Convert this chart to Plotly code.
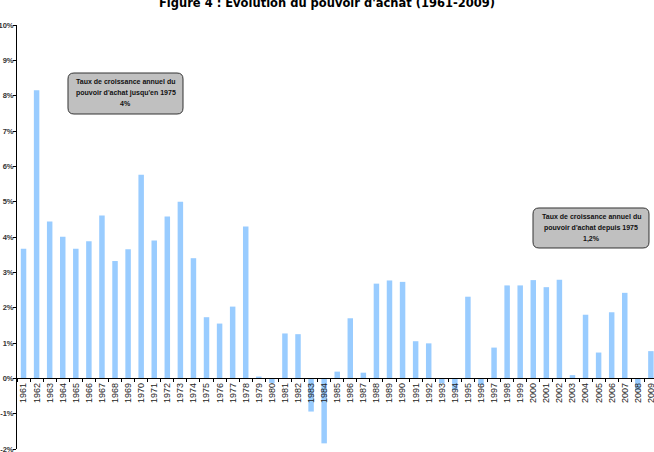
import plotly.graph_objects as go

years = [str(y) for y in range(1961, 2010)]
growth = [3.67, 8.15, 4.44, 4.01, 3.67, 3.88, 4.61, 3.32, 3.65, 5.76,
          3.90, 4.58, 5.00, 3.40, 1.73, 1.55, 2.03, 4.30, 0.05, -0.13,
          1.27, 1.25, -0.94, -1.84, 0.19, 1.70, 0.16, 2.68, 2.77, 2.73,
          1.05, 0.99, -0.14, -0.34, 2.31, -0.19, 0.87, 2.63, 2.63, 2.78,
          2.58, 2.79, 0.09, 1.80, 0.73, 1.87, 2.42, -0.34, 0.77]
y_ticks = list(range(-2, 11))
y_ticktext = [f"{v}%" for v in y_ticks]
title_text = "Figure 4 : Evolution du pouvoir d'achat (1961-2009)"
box_lines = [
    ["Taux de croissance annuel du", "pouvoir d'achat jusqu'en 1975", "4%"],
    ["Taux de croissance annuel du", "pouvoir d'achat depuis 1975", "1,2%"],
]

W, H = 654, 452
ML, MR, MT, MB = 17, 0, 25, 3
PW, PH = W - ML - MR, H - MT - MB
CAT_PX = 13.07

fig = go.Figure(go.Bar(x=years, y=growth, marker_color="#99ccff",
                       marker_line_width=0))

def px2paper(x, y):
    return (x - ML) / PW, (H - MB - y) / PH

def rounded_path(x0, y0, x1, y1, r):
    def P(x, y):
        a, b = px2paper(x, y)
        return f"{a:.5f},{b:.5f}"
    return (f"M {P(x0 + r, y0)} L {P(x1 - r, y0)} Q {P(x1, y0)} {P(x1, y0 + r)} "
            f"L {P(x1, y1 - r)} Q {P(x1, y1)} {P(x1 - r, y1)} "
            f"L {P(x0 + r, y1)} Q {P(x0, y1)} {P(x0, y1 - r)} "
            f"L {P(x0, y0 + r)} Q {P(x0, y0)} {P(x0 + r, y0)} Z")

boxes = [(68, 73, 183, 114), (533, 208, 649, 248)]
line_offsets = [8.2, 19.5, 30.8]
for (x0, y0, x1, y1), lines in zip(boxes, box_lines):
    fig.add_shape(type="path", path=rounded_path(x0, y0, x1, y1, 6),
                  xref="paper", yref="paper", fillcolor="#c0c0c0",
                  line=dict(color="#333333", width=1), layer="above")
    for off, txt in zip(line_offsets, lines):
        cx, cy = px2paper((x0 + x1) / 2, y0 + off)
        fig.add_annotation(x=cx, y=cy, xref="paper", yref="paper", text=txt,
                           showarrow=False, xanchor="center", yanchor="middle",
                           font=dict(family="Liberation Sans, Arial", size=7,
                                     color="#111111", weight="bold"))

fig.update_layout(
    width=W, height=H,
    margin=dict(l=ML, r=MR, t=MT, b=MB, pad=0, autoexpand=False),
    paper_bgcolor="white", plot_bgcolor="white",
    showlegend=False,
    bargap=0.58,
    title=dict(text=f"<b>{title_text}</b>", x=0.5, xanchor="center",
               y=1 - 3 / H, yanchor="middle", yref="container",
               font=dict(family="DejaVu Sans", size=11.5, color="#000000")),
    xaxis=dict(type="category", range=[-0.5, -0.5 + PW / CAT_PX],
               anchor="free", position=2 / 12, automargin=False,
               showline=True, linecolor="#000000", linewidth=1,
               ticks="outside", ticklen=3, tickcolor="#000000", tickson="boundaries",
               tickangle=-90, showgrid=False, zeroline=False,
               tickfont=dict(family="Liberation Sans, Arial", size=9, color="#222222")),
    yaxis=dict(range=[-2, 10], tickvals=y_ticks, ticktext=y_ticktext,
               automargin=False,
               showline=True, linecolor="#000000", linewidth=1,
               ticks="outside", ticklen=3, tickcolor="#000000",
               showgrid=False, zeroline=False, ticklabeloverflow="allow",
               ticklabelstandoff=-2,
               tickfont=dict(family="Liberation Sans, Arial", size=7.5, color="#333333",
                             weight="bold")),
)

fig.write_html("out.html")
